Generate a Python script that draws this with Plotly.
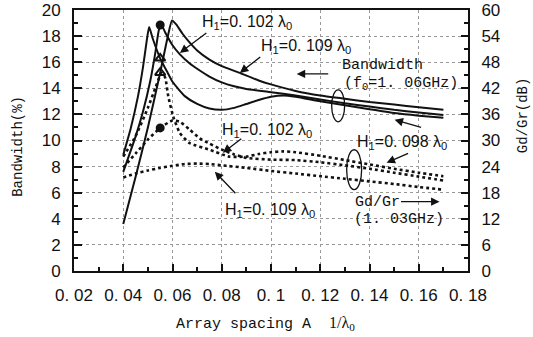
import plotly.graph_objects as go

# ---------------- data ----------------
# Bandwidth (%) curves, left axis (solid)
x_bw098 = [0.040, 0.043, 0.046, 0.048, 0.0495, 0.0505, 0.052, 0.055, 0.058, 0.060, 0.065, 0.070, 0.075,
           0.080, 0.085, 0.090, 0.095, 0.100, 0.105, 0.110, 0.120, 0.130, 0.140, 0.150, 0.160, 0.170]
bw098 = [8.9, 10.9, 13.4, 15.6, 17.6, 18.7, 17.8, 16.3, 15.2, 14.5, 13.4, 12.8, 12.45,
         12.35, 12.5, 12.8, 13.1, 13.35, 13.45, 13.35, 13.0, 12.7, 12.4, 12.1, 11.9, 11.75]

x_bw102 = [0.040, 0.045, 0.048, 0.051, 0.053, 0.0545, 0.0555, 0.057, 0.060, 0.063, 0.067, 0.070, 0.075,
           0.080, 0.085, 0.090, 0.100, 0.110, 0.120, 0.130, 0.140, 0.150, 0.160, 0.170]
bw102 = [7.6, 10.3, 12.2, 14.6, 16.7, 18.5, 18.85, 18.3, 17.3, 16.6, 15.9, 15.5, 14.9,
         14.45, 14.15, 13.95, 13.7, 13.45, 13.15, 12.85, 12.6, 12.35, 12.15, 11.95]

x_bw109 = [0.040, 0.045, 0.050, 0.055, 0.058, 0.0598, 0.0615, 0.064, 0.067, 0.070, 0.075, 0.080, 0.087,
           0.095, 0.100, 0.110, 0.120, 0.130, 0.140, 0.150, 0.160, 0.170]
bw109 = [3.6, 7.2, 11.0, 15.2, 17.9, 19.2, 18.9, 18.2, 17.5, 16.9, 16.2, 15.7, 15.2,
         14.6, 14.3, 13.8, 13.45, 13.2, 12.95, 12.75, 12.55, 12.35]

# Gd/Gr (dB) curves, right axis (dotted)
x_gd098 = [0.040, 0.045, 0.050, 0.053, 0.0555, 0.057, 0.0583, 0.0603, 0.063, 0.067, 0.075, 0.083,
           0.090, 0.095, 0.100, 0.105, 0.110, 0.120, 0.130, 0.140, 0.150, 0.160, 0.170]
gd098 = [26.3, 31.0, 37.5, 42.0, 45.5, 44.5, 40.1, 35.5, 31.7, 29.4, 27.9, 26.3,
         26.3, 26.9, 27.3, 27.5, 27.3, 26.5, 25.5, 24.5, 23.5, 22.6, 21.8]

x_gd102 = [0.040, 0.045, 0.050, 0.055, 0.060, 0.063, 0.067, 0.071, 0.075, 0.080, 0.085, 0.090,
           0.100, 0.110, 0.120, 0.130, 0.140, 0.150, 0.160, 0.170]
gd102 = [23.8, 27.0, 30.2, 32.9, 34.6, 34.3, 32.5, 30.5, 29.3, 27.9, 26.8, 26.0,
         25.6, 25.5, 25.0, 24.3, 23.5, 22.6, 21.7, 20.8]

x_gd109 = [0.040, 0.045, 0.050, 0.055, 0.060, 0.065, 0.070, 0.075, 0.080, 0.090, 0.100, 0.110,
           0.120, 0.130, 0.140, 0.150, 0.160, 0.170]
gd109 = [21.5, 22.4, 23.1, 23.7, 24.2, 24.6, 24.7, 24.6, 24.3, 23.7, 23.0, 22.4,
         21.8, 21.2, 20.6, 20.0, 19.3, 18.7]

# marked points
dot_bw_x, dot_bw_y = [0.055], [18.85]
dot_gd_x, dot_gd_y = [0.055], [32.9]
tri_x, tri_y = [0.055, 0.055], [16.3, 15.2]

x_ticks = [0.02, 0.04, 0.06, 0.08, 0.10, 0.12, 0.14, 0.16, 0.18]
x_ticktext = ["0. 02", "0. 04", "0. 06", "0. 08", "0. 1", "0. 12", "0. 14", "0. 16", "0. 18"]

# ---------------- figure ----------------
W, H = 533, 337
L, R, T, B = 74, 468.5, 10, 271.5


def paper(px, py):
    return (px - L) / (R - L), (B - py) / (B - T)


fig = go.Figure()
solid = dict(color="#111", width=2, shape="spline", smoothing=0.5)
dotted = dict(color="#111", width=2.6, dash="dot", shape="spline", smoothing=0.5)

for xs, ys in [(x_bw098, bw098), (x_bw102, bw102), (x_bw109, bw109)]:
    fig.add_trace(go.Scatter(x=xs, y=ys, mode="lines", line=solid, yaxis="y", hoverinfo="skip"))
for xs, ys in [(x_gd098, gd098), (x_gd102, gd102), (x_gd109, gd109)]:
    fig.add_trace(go.Scatter(x=xs, y=ys, mode="lines", line=dotted, yaxis="y2", hoverinfo="skip"))

fig.add_trace(go.Scatter(x=dot_bw_x, y=dot_bw_y, mode="markers", yaxis="y",
                         marker=dict(symbol="circle", size=9, color="#111")))
fig.add_trace(go.Scatter(x=dot_gd_x, y=dot_gd_y, mode="markers", yaxis="y2",
                         marker=dict(symbol="circle", size=9, color="#111")))
fig.add_trace(go.Scatter(x=tri_x, y=tri_y, mode="markers", yaxis="y",
                         marker=dict(symbol="triangle-up-open", size=9, color="#111",
                                     line=dict(width=2, color="#111"))))

tickfont = dict(family="Liberation Sans", size=17, color="#111")
common = dict(showline=True, linecolor="#111", linewidth=2, zeroline=False, tickfont=tickfont,
              ticks="inside", tickcolor="#111", tickwidth=1.5, automargin=False)

fig.update_layout(
    width=W, height=H, autosize=False, showlegend=False,
    paper_bgcolor="white", plot_bgcolor="white",
    margin=dict(l=L, r=W - R, t=T, b=H - B, pad=0),
    xaxis=dict(range=[0.02, 0.18], tickvals=x_ticks, ticktext=x_ticktext, ticklen=7,
               mirror=True, showgrid=True, gridcolor="#999", griddash="dot", gridwidth=1,
               ticklabelstandoff=8,
               minor=dict(ticks="inside", dtick=0.01, ticklen=4, tickcolor="#111", showgrid=False),
               **common),
    yaxis=dict(range=[0, 20], dtick=2, ticklen=8, showgrid=True, gridcolor="#999", griddash="dot",
               gridwidth=1, ticklabelstandoff=8,
               minor=dict(ticks="inside", dtick=1, ticklen=4, tickcolor="#111", showgrid=False),
               **common),
    yaxis2=dict(range=[0, 60], dtick=6, ticklen=7, overlaying="y", side="right", showgrid=False,
                ticklabelstandoff=8,
                minor=dict(ticks="inside", dtick=3, ticklen=4, tickcolor="#111", showgrid=False),
                **common),
)

label_font = dict(family="Liberation Sans", size=16, color="#111")
mono_font = dict(family="Liberation Mono", size=15, color="#111")

texts = [
    ("H<sub>1</sub>=0. 102 λ<sub>0</sub>", 200, 23, label_font),
    ("H<sub>1</sub>=0. 109 λ<sub>0</sub>", 259, 47, label_font),
    ("Bandwidth", 340, 66, mono_font),
    ("(f<sub>0</sub>=1. 06GHz)", 342, 84, mono_font),
    ("H<sub>1</sub>=0. 098 λ<sub>0</sub>", 355, 143, label_font),
    ("H<sub>1</sub>=0. 102 λ<sub>0</sub>", 220, 131, label_font),
    ("H<sub>1</sub>=0. 109 λ<sub>0</sub>", 223, 211, label_font),
    ("Gd/Gr", 353, 203, mono_font),
    ("(1. 03GHz)", 352, 220, mono_font),
]
for t, px, py, f in texts:
    xp, yp = paper(px, py)
    fig.add_annotation(text=t, x=xp, y=yp, xref="paper", yref="paper", xanchor="left",
                       yanchor="middle", showarrow=False, font=f)

arrows = [  # (tail px, tail py, tip px, tip py)
    (208, 32, 180, 53),
    (262, 56, 240, 73),
    (330, 74, 297, 74),
    (423, 128, 395, 120),
    (410, 153, 387, 163),
    (243, 138, 223, 153),
    (237, 195, 215, 172),
    (400, 202, 440, 202),
]
for tx, ty, hx, hy in arrows:
    xp, yp = paper(hx, hy)
    fig.add_annotation(text="", x=xp, y=yp, xref="paper", yref="paper", ax=tx - hx, ay=ty - hy,
                       showarrow=True, arrowhead=2, arrowsize=1.3, arrowwidth=1.3, arrowcolor="#111")

ellipses = [(332, 90, 345, 122), (347, 150, 362, 190)]
for x0, y0, x1, y1 in ellipses:
    a0, b0 = paper(x0, y1)
    a1, b1 = paper(x1, y0)
    fig.add_shape(type="circle", xref="paper", yref="paper", x0=a0, y0=b0, x1=a1, y1=b1,
                  line=dict(color="#111", width=1.3))

# axis titles
xp, yp = paper(266, 324)
fig.add_annotation(text="Array spacing A  <span style='font-family:Liberation Serif;font-size:16px'>1/λ<sub>0</sub></span>",
                   x=xp, y=yp, xref="paper", yref="paper", showarrow=False,
                   xanchor="center", yanchor="middle",
                   font=dict(family="Liberation Mono", size=15, color="#111"))
xp, yp = paper(18, 147)
fig.add_annotation(text="Bandwidth(%)", x=xp, y=yp, xref="paper", yref="paper", showarrow=False,
                   xanchor="center", yanchor="middle",
                   textangle=-90, font=dict(family="Liberation Mono", size=14, color="#111"))
xp, yp = paper(523, 115)
fig.add_annotation(text="Gd/Gr(dB)", x=xp, y=yp, xref="paper", yref="paper", showarrow=False,
                   xanchor="center", yanchor="middle",
                   textangle=-90, font=dict(family="Liberation Mono", size=14, color="#111"))

fig.write_html("out.html", config={"displayModeBar": False},
               post_script="document.body.style.margin='0';document.body.style.padding='0';"
                           "document.body.style.overflow='hidden';")
